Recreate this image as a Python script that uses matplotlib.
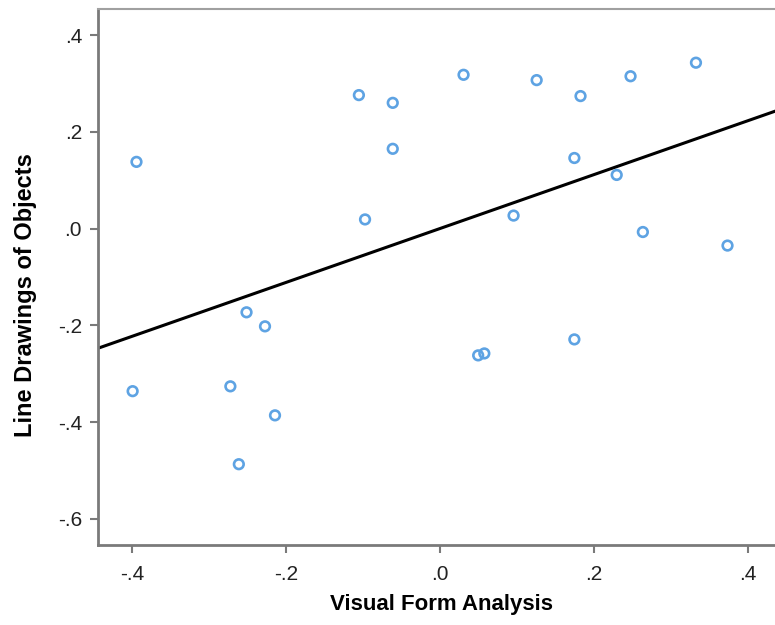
import numpy as np
import matplotlib
matplotlib.use("Agg")
import matplotlib.pyplot as plt

plt.rcParams["font.family"] = ["Liberation Sans", "DejaVu Sans"]

# values
visual_form = [
    -0.394, -0.399, -0.251, -0.227, -0.272, -0.214, -0.261,
    -0.105, -0.061, -0.061, -0.097, 0.031, 0.126, 0.183, 0.248,
    0.333, 0.175, 0.230, 0.096, 0.264, 0.374, 0.050, 0.058, 0.175,
]
line_drawings = [
    0.138, -0.336, -0.173, -0.202, -0.326, -0.386, -0.487,
    0.276, 0.260, 0.165, 0.019, 0.318, 0.307, 0.274, 0.315,
    0.343, 0.146, 0.111, 0.027, -0.007, -0.035, -0.262, -0.258, -0.229,
]

FIT_SLOPE = 0.557
FIT_INTERCEPT = 0.0

X_TICKS = [-0.4, -0.2, 0.0, 0.2, 0.4]
Y_TICKS = [-0.6, -0.4, -0.2, 0.0, 0.2, 0.4]


def tick_label(v):
    if abs(v) < 1e-9:
        return ".0"
    return f"{v:.1f}".replace("0.", ".")


def main():
    fig = plt.figure(figsize=(7.75, 6.25), dpi=100)
    W, H = 775, 625
    left, right, top, bottom = 98, 786, 9, 545
    ax = fig.add_axes([left / W, (H - bottom) / H,
                       (right - left) / W, (bottom - top) / H])

    ax.set_xlim(-0.444, 0.45)
    ax.set_ylim(-0.654, 0.454)

    ax.axline((0, FIT_INTERCEPT), slope=FIT_SLOPE, color="black",
              linewidth=2.2, zorder=2)
    ax.scatter(visual_form, line_drawings, s=48, facecolors="none",
               edgecolors="#5ea3e3", linewidths=1.9, zorder=3)

    ax.set_xticks(X_TICKS)
    ax.set_xticklabels([tick_label(v) for v in X_TICKS])
    ax.set_yticks(Y_TICKS)
    ax.set_yticklabels([tick_label(v) for v in Y_TICKS])

    for side in ["left", "bottom"]:
        ax.spines[side].set_color("#7a7a7a")
        ax.spines[side].set_linewidth(2.0)
    ax.spines["top"].set_color("#a0a0a0")
    ax.spines["top"].set_linewidth(1.5)
    ax.spines["right"].set_visible(False)

    ax.tick_params(axis="both", direction="out", length=5.5, width=1.5,
                   color="#7a7a7a", labelsize=15, labelcolor="#222222")
    ax.tick_params(axis="y", pad=6)
    ax.tick_params(axis="x", pad=9)

    ax.set_xlabel("Visual Form Analysis", fontsize=16, fontweight="bold",
                  labelpad=7)
    ax.set_ylabel("Line Drawings of Objects", fontsize=17,
                  fontweight="bold")
    ax.yaxis.set_label_coords(-0.088, 0.466)

    fig.savefig("out.png", dpi=100)
    plt.close(fig)


if __name__ == "__main__":
    main()
